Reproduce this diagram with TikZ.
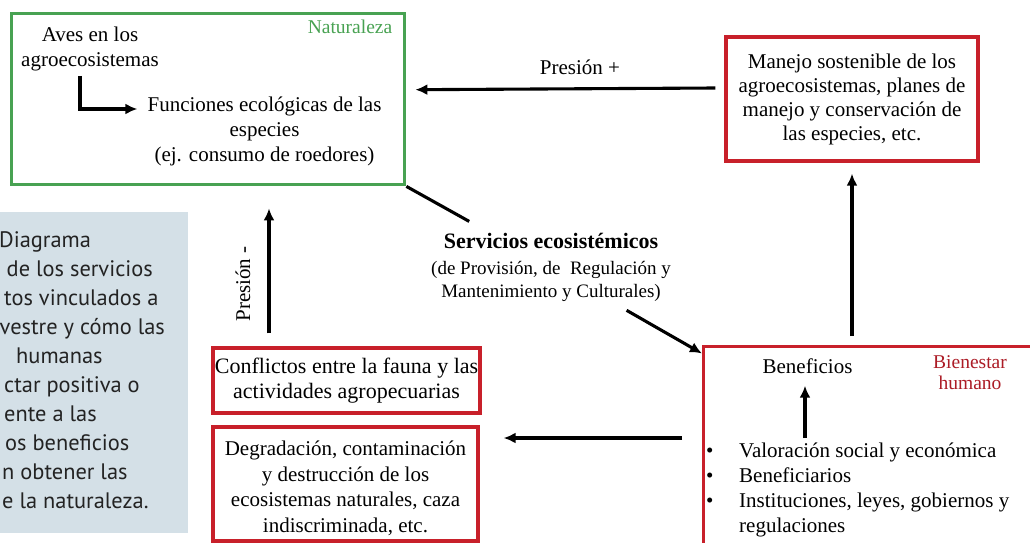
\documentclass[tikz,border=0pt]{standalone}
\usepackage{fontspec}
\setmainfont{Liberation Serif}
\newfontfamily\sidefont{PT Sans}
\usetikzlibrary{arrows.meta}
\definecolor{natgreen}{RGB}{72,162,82}
\definecolor{boxred}{RGB}{200,32,42}
\definecolor{bienred}{RGB}{172,28,38}
\definecolor{sideblue}{RGB}{212,224,231}
\definecolor{sidetext}{RGB}{35,35,35}
\begin{document}
\begin{tikzpicture}[x=1pt,y=-1pt,
  txt/.style={inner sep=0pt, align=center, font=\fontsize{21}{25}\selectfont},
  small/.style={inner sep=0pt, align=center, font=\fontsize{19.5}{21.5}\selectfont},
  side/.style={inner sep=0pt, anchor=base west, font=\sidefont\fontsize{22.4}{29}\selectfont, text=sidetext},
  redbox/.style={draw=boxred, line width=3.2pt, inner sep=0pt},
  greenbox/.style={draw=natgreen, line width=3.4pt, inner sep=0pt},
  arr/.style={line width=3.1pt, -{Latex[length=12pt,width=11pt]}},
  plain/.style={line width=3.1pt}]
\useasboundingbox (0,0) rectangle (1030,543);
\fill[white] (0,0) rectangle (1030,543);

% side caption box
\fill[sideblue] (-5,212) rectangle (188,533);
\node[side] (s1) at (-1,247) {Diagrama};
\node[side] (s2) at (6.5,276) {de los servicios};
\node[side] (s3) at (4,305) {tos vinculados a};
\node[side] (s4) at (-0.5,334) {vestre y cómo las};
\node[side] (s5) at (16,363) {humanas};
\node[side] (s6) at (4,392) {ctar positiva o};
\node[side] (s7) at (4,421) {ente a las};
\node[side] (s8) at (5,450) {os beneficios};
\node[side] (s9) at (2,479) {n obtener las};
\node[side] (s10) at (2,508) {e la naturaleza.};

% Naturaleza box
\node[greenbox, minimum width=393pt, minimum height=171pt, anchor=north west] (nat) at (10,12) {};
\node[small, text=natgreen] (natl) at (350,27) {Naturaleza};
\node[txt] (aves) at (90,48.5) {Aves en los\\agroecosistemas};
\node[txt] (func) at (264.5,131) {Funciones ecológicas de las\\especies\\(ej. consumo de roedores)};
\draw[arr, shorten <=5pt] ([xshift=-10pt]aves.south) |- ([xshift=-10pt,yshift=22pt]func.west);

% Manejo box
\node[redbox, txt, minimum width=252pt, minimum height=124pt, font=\fontsize{21}{24}\selectfont] (man) at (852,99)
  {Manejo sostenible de los\\agroecosistemas, planes de\\manejo y conservación de\\las especies, etc.};
\node[txt] (presp) at (580,67) {Presión +};
\draw[arr] ([xshift=-9pt,yshift=11pt]man.west) -- ([xshift=9pt,yshift=9.5pt]nat.east);

% Servicios
\node[inner sep=0pt, align=center, font=\fontsize{19}{23}\selectfont] (serv) at (551,267)
  {{\fontsize{22}{25}\selectfont\bfseries Servicios ecosistémicos}\\[3pt]
   (de Provisión, de\ \ Regulación y\\
   Mantenimiento y Culturales)};
\draw[plain, shorten >=23pt] (nat.south east) -- (serv);

% Bienestar humano box
\node[redbox, minimum width=340pt, minimum height=210pt, anchor=north west] (benbox) at (702,345) {};
\node[txt] (ben) at (807.5,366) {Beneficios};
\node[small, text=bienred] (bien) at (970,372.5) {Bienestar\\humano};
\node[inner sep=0pt, anchor=base west, font=\fontsize{21}{25.3}\selectfont] (lst) at (706,457)
  {\begin{tabular}[t]{@{}p{33pt}@{}l@{}}
   \textbullet & Valoración social y económica\\
   \textbullet & Beneficiarios\\
   \textbullet & Instituciones, leyes, gobiernos y\\
               & regulaciones
   \end{tabular}};
\coordinate (bst) at (805,438);
\draw[arr, shorten >=12pt] (bst) -- (bst |- ben.south);

\draw[arr, shorten <=18pt] (serv) -- (benbox);
\draw[arr, shorten <=9pt, shorten >=11pt] (man.south |- benbox.north) -- (man.south);

% Conflictos and Degradacion
\node[redbox, txt, minimum width=267pt, minimum height=65pt, font=\fontsize{22}{25}\selectfont] (conf) at (346.5,380.5)
  {Conflictos entre la fauna y las\\actividades agropecuarias};
\node[redbox, minimum width=265pt, minimum height=114pt] (deg) at (345.5,484) {};
\node[txt, font=\fontsize{21}{25.5}\selectfont] (degt) at (345.5,488.5)
  {Degradación, contaminación\\y destrucción de los\\ecosistemas naturales, caza\\indiscriminada, etc.};

\coordinate (hy) at (0,438);
\draw[arr, shorten <=20pt, shorten >=24pt] (benbox.west |- hy) -- (deg.east |- hy);

\coordinate (vx) at (269,0);
\draw[arr, shorten <=13pt, shorten >=22pt] (vx |- conf.north) -- (vx |- nat.south);
\node[txt, rotate=90] (presm) at (243,284) {Presión -};
\end{tikzpicture}
\end{document}
